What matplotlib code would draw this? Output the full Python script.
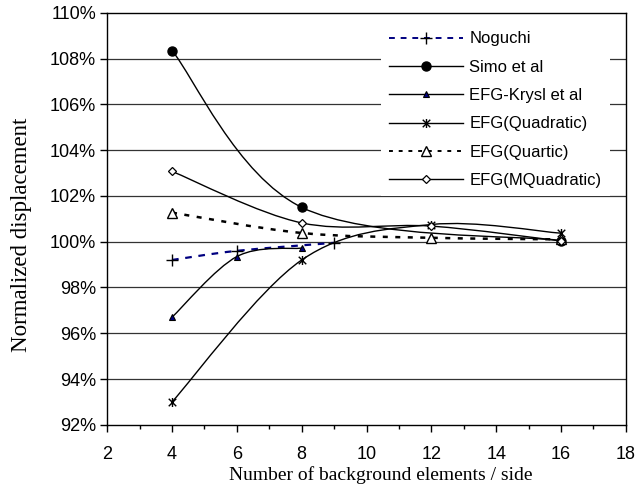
import numpy as np
import matplotlib
matplotlib.use("Agg")
import matplotlib.pyplot as plt
from matplotlib.path import Path
from matplotlib.patches import PathPatch
from matplotlib.lines import Line2D
from matplotlib.ticker import MultipleLocator, FuncFormatter

# ---- data (normalized displacement, %) ----
noguchi_x = [4, 6, 9]
noguchi_y = [99.2, 99.6, 99.95]
simo_x = [4, 8, 16]
simo_y = [108.35, 101.5, 100.05]
krysl_x = [4, 6, 8]
krysl_y = [96.7, 99.35, 99.72]
quad_x = [4, 8, 12, 16]
quad_y = [93.0, 99.2, 100.75, 100.37]
quart_x = [4, 8, 12, 16]
quart_y = [101.27, 100.38, 100.17, 100.1]
mquad_x = [4, 8, 12, 16]
mquad_y = [103.07, 100.82, 100.68, 100.03]

labels = ["Noguchi", "Simo et al", "EFG-Krysl et al", "EFG(Quadratic)",
          "EFG(Quartic)", "EFG(MQuadratic)"]
xticks = list(range(2, 19, 2))
yticks = list(range(92, 111, 2))

# star marker (x with vertical bar)
star = Path([(-1, -1), (1, 1), (-1, 1), (1, -1), (0, -1.2), (0, 1.2)],
            [Path.MOVETO, Path.LINETO, Path.MOVETO, Path.LINETO, Path.MOVETO, Path.LINETO])


def smooth_path(xs, ys):
    """Excel-style smoothed line as cubic Bezier segments through the data."""
    P = np.column_stack([xs, ys]).astype(float)
    n = len(P)
    verts = [P[0]]
    codes = [Path.MOVETO]
    for i in range(n - 1):
        p0 = P[i - 1] if i > 0 else P[i]
        p1 = P[i]
        p2 = P[i + 1]
        p3 = P[i + 2] if i + 2 < n else P[i + 1]
        c1 = p1 + (p2 - p0) / 6.0
        c2 = p2 - (p3 - p1) / 6.0
        verts += [c1, c2, p2]
        codes += [Path.CURVE4] * 3
    return Path(np.array(verts), codes)


fig = plt.figure(figsize=(6.38, 4.90), dpi=100)
ax = fig.add_axes([0.168, 0.133, 0.813, 0.841])
ax.set_xlim(2, 18)
ax.set_ylim(92, 110)

for y in yticks[1:-1]:
    ax.axhline(y, color="#333333", lw=0.9, zorder=1)

series = [
    dict(x=noguchi_x, y=noguchi_y, color="#000080", ls=(0, (3, 3)), lw=1.6,
         marker="+", ms=9, mfc="black", mec="black", mew=1.0),
    dict(x=simo_x, y=simo_y, color="black", ls="-", lw=1.0,
         marker="o", ms=6.5, mfc="black", mec="black", mew=1.0),
    dict(x=krysl_x, y=krysl_y, color="black", ls="-", lw=1.0,
         marker="^", ms=5, mfc="#000080", mec="black", mew=0.8),
    dict(x=quad_x, y=quad_y, color="black", ls="-", lw=1.0,
         marker=star, ms=6.5, mfc="black", mec="black", mew=1.0),
    dict(x=quart_x, y=quart_y, color="black", ls=(0, (2, 3)), lw=1.8,
         marker="^", ms=7.5, mfc="white", mec="black", mew=1.0),
    dict(x=mquad_x, y=mquad_y, color="black", ls="-", lw=1.0,
         marker="D", ms=4, mfc="white", mec="black", mew=0.9),
]

handles = []
for k, s in enumerate(series):
    z = 3 + k
    patch = PathPatch(smooth_path(s["x"], s["y"]), fill=False, edgecolor=s["color"],
                      lw=s["lw"], linestyle=s["ls"], zorder=z, capstyle="butt")
    ax.add_patch(patch)
    ax.plot(s["x"], s["y"], linestyle="none", marker=s["marker"], ms=s["ms"],
            mfc=s["mfc"], mec=s["mec"], mew=s["mew"], zorder=z + 0.5)
    handles.append(Line2D([], [], color=s["color"], ls=s["ls"], lw=s["lw"] if s["lw"] < 1.5 else 1.4,
                          marker=s["marker"], ms=s["ms"], mfc=s["mfc"], mec=s["mec"],
                          mew=s["mew"]))

ax.xaxis.set_major_locator(MultipleLocator(2))
ax.xaxis.set_minor_locator(MultipleLocator(1))
ax.set_xticks(xticks)
ax.set_yticks(yticks)
ax.yaxis.set_major_formatter(FuncFormatter(lambda v, p: f"{v:.0f}%"))
ax.tick_params(axis="both", which="major", direction="out", length=5, width=1,
               labelsize=13, colors="black", pad=3)
ax.tick_params(axis="x", which="major", pad=10)
ax.tick_params(axis="x", which="minor", direction="out", length=3, width=1)
for lab in ax.get_xticklabels() + ax.get_yticklabels():
    lab.set_fontfamily("Liberation Sans")
for sp in ax.spines.values():
    sp.set_linewidth(1.0)
    sp.set_color("black")

ax.set_xlabel("Number of background elements / side", fontfamily="Liberation Serif",
              fontsize=14, labelpad=2)
ax.xaxis.set_label_coords(0.527, -0.1)
ax.set_ylabel("Normalized displacement", fontfamily="Liberation Serif",
              fontsize=16.5)
ax.yaxis.set_label_coords(-0.145, 0.461)

leg = ax.legend(handles, labels, loc="upper right", bbox_to_anchor=(0.985, 0.995),
                frameon=True, fancybox=False, edgecolor="none", facecolor="white",
                framealpha=1, handlelength=4.4, handletextpad=0.4, labelspacing=0.8,
                borderpad=0.5, prop={"family": "Liberation Sans", "size": 12})
leg.set_zorder(20)

fig.savefig("out.png", dpi=100)
